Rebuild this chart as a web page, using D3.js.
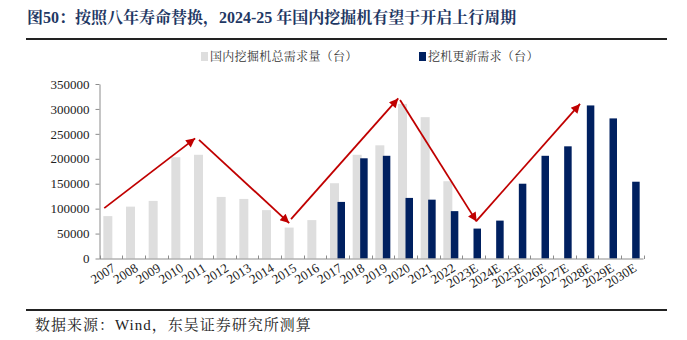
<!DOCTYPE html>
<html>
<head>
<meta charset="utf-8">
<script src="https://cdn.jsdelivr.net/npm/d3@7/dist/d3.min.js"></script>
<style>
  html, body { margin: 0; padding: 0; background: #fff; }
  svg { display: block; }
</style>
</head>
<body>
<svg id="chart" width="687" height="340"></svg>
<script>
// Years on the x axis (E = estimate)
const categories = ['2007','2008','2009','2010','2011','2012','2013','2014','2015','2016',
  '2017','2018','2019','2020','2021','2022','2023E','2024E','2025E','2026E','2027E','2028E','2029E','2030E'];

// 国内挖掘机总需求量（台）, 2007–2022
const totalDemand = [85000,104000,115500,203000,208000,123500,119500,97000,62000,77000,
  151000,208000,227000,310000,283500,155000,null,null,null,null,null,null,null,null];

// 挖机更新需求（台）, 2017–2030E
const replacementDemand = [null,null,null,null,null,null,null,null,null,null,
  113500,201000,206000,121500,118000,95000,60000,76000,150000,206000,225000,307000,281000,154000];

const yTicks = [0,50000,100000,150000,200000,250000,300000,350000];

// Trend arrows: [from category position, from value, to category position, to value]
// (positions are category indices; fractional values sit between bar centres)
const trendArrows = [
  [-0.29, 101000, 3.72, 241000],
  [3.89, 238000, 7.87, 71000],
  [7.95, 79000, 12.68, 321000],
  [12.76, 318000, 16.14, 74000],
  [16.14, 76000, 20.70, 310000]
];

const titleText = '图50：按照八年寿命替换，2024-25 年国内挖掘机有望于开启上行周期';
const legendLabels = ['国内挖掘机总需求量（台）', '挖机更新需求（台）'];
const sourceText = '数据来源：Wind，东吴证券研究所测算';

const colors = { total: '#DEDEDE', repl: '#002060', arrow: '#C00000', axis: '#8C8C8C' };

const svg = d3.select('#chart');
const plotLeft = 99.5, plotRight = 643.5, plotTop = 84, plotBottom = 258.5;

const x = d3.scaleBand().domain(categories).range([plotLeft, plotRight]);
const xi = d3.scaleLinear().domain([-0.5, categories.length - 0.5]).range([plotLeft, plotRight]);
const y = d3.scaleLinear().domain([0, 350000]).range([plotBottom, plotTop]);

const serif = '"Liberation Serif", "Times New Roman", "Noto Serif CJK SC", "Noto Sans CJK SC", serif';

// Title and rules
svg.append('text')
  .attr('x', 27).attr('y', 23)
  .attr('font-family', serif)
  .attr('font-weight', 700)
  .attr('font-size', 16)
  .attr('fill', '#1F3864')
  .text(titleText);

svg.append('line').attr('x1', 26).attr('x2', 667).attr('y1', 39).attr('y2', 39)
  .attr('stroke', '#222').attr('stroke-width', 2);
svg.append('line').attr('x1', 26).attr('x2', 667).attr('y1', 310).attr('y2', 310)
  .attr('stroke', '#222').attr('stroke-width', 2);

svg.append('text')
  .attr('x', 35).attr('y', 330)
  .attr('font-family', serif)
  .attr('font-size', 15)
  .attr('letter-spacing', 1)
  .attr('fill', '#222')
  .text(sourceText);

// Legend
const legend = svg.append('g').attr('font-family', serif).attr('font-size', 12).attr('fill', '#333');
const legendItems = [
  { label: legendLabels[0], color: colors.total, x: 201 },
  { label: legendLabels[1], color: colors.repl, x: 419 }
];
legendItems.forEach(d => {
  legend.append('rect').attr('x', d.x).attr('y', 52).attr('width', 7).attr('height', 9).attr('fill', d.color);
  legend.append('text').attr('x', d.x + 9).attr('y', 61).attr('letter-spacing', 0.3).text(d.label);
});

// Y axis
const yAxis = d3.axisLeft(y).tickValues(yTicks).tickSize(4).tickSizeOuter(0).tickFormat(d3.format('d'));
const gy = svg.append('g').attr('transform', `translate(${plotLeft},0)`).call(yAxis);
gy.select('.domain').attr('stroke', colors.axis);
gy.selectAll('.tick line').attr('stroke', colors.axis);
gy.selectAll('.tick text')
  .attr('font-family', serif).attr('font-size', 13).attr('fill', '#222').attr('x', -10);

// Bars: total demand sits slightly left of the band centre, replacement demand to the right
const barW = 8;
svg.append('g').selectAll('rect')
  .data(categories.map((c, i) => ({ c, v: totalDemand[i] })).filter(d => d.v != null))
  .join('rect')
  .attr('x', d => x(d.c) + x.bandwidth() / 2 - 7.5)
  .attr('width', barW + 1)
  .attr('y', d => y(d.v))
  .attr('height', d => y(0) - y(d.v))
  .attr('fill', colors.total);

svg.append('g').selectAll('rect')
  .data(categories.map((c, i) => ({ c, v: replacementDemand[i] })).filter(d => d.v != null))
  .join('rect')
  .attr('x', d => x(d.c) + x.bandwidth() / 2)
  .attr('width', barW - 0.5)
  .attr('y', d => y(d.v))
  .attr('height', d => y(0) - y(d.v))
  .attr('fill', colors.repl);

// X axis: baseline with ticks at band boundaries pointing up
const gx = svg.append('g');
gx.append('line').attr('x1', plotLeft).attr('x2', plotRight).attr('y1', plotBottom + 0.5).attr('y2', plotBottom + 0.5)
  .attr('stroke', colors.axis).attr('stroke-width', 1);
gx.selectAll('line.tk')
  .data(d3.range(categories.length + 1))
  .join('line').attr('class', 'tk')
  .attr('x1', i => Math.round(plotLeft + i * x.step()) + 0.5)
  .attr('x2', i => Math.round(plotLeft + i * x.step()) + 0.5)
  .attr('y1', plotBottom + 0.5).attr('y2', plotBottom - 3)
  .attr('stroke', colors.axis);
gx.selectAll('text')
  .data(categories)
  .join('text')
  .attr('transform', d => `translate(${x(d) + x.bandwidth() / 2 + 3},${plotBottom + 8}) rotate(-32)`)
  .attr('text-anchor', 'end')
  .attr('font-family', serif)
  .attr('font-size', 13)
  .attr('fill', '#222')
  .attr('dy', '0.35em')
  .text(d => d);

// Trend arrows
svg.append('defs').append('marker')
  .attr('id', 'arrowhead')
  .attr('viewBox', '0 0 10 10')
  .attr('refX', 10).attr('refY', 5)
  .attr('markerUnits', 'userSpaceOnUse')
  .attr('markerWidth', 11).attr('markerHeight', 9)
  .attr('orient', 'auto')
  .append('path').attr('d', 'M0,0 L10,5 L0,10 Z').attr('fill', colors.arrow);

svg.append('g').selectAll('line')
  .data(trendArrows)
  .join('line')
  .attr('x1', d => xi(d[0])).attr('y1', d => y(d[1]))
  .attr('x2', d => xi(d[2])).attr('y2', d => y(d[3]))
  .attr('stroke', colors.arrow)
  .attr('stroke-width', 1.8)
  .attr('marker-end', 'url(#arrowhead)');
</script>
</body>
</html>
